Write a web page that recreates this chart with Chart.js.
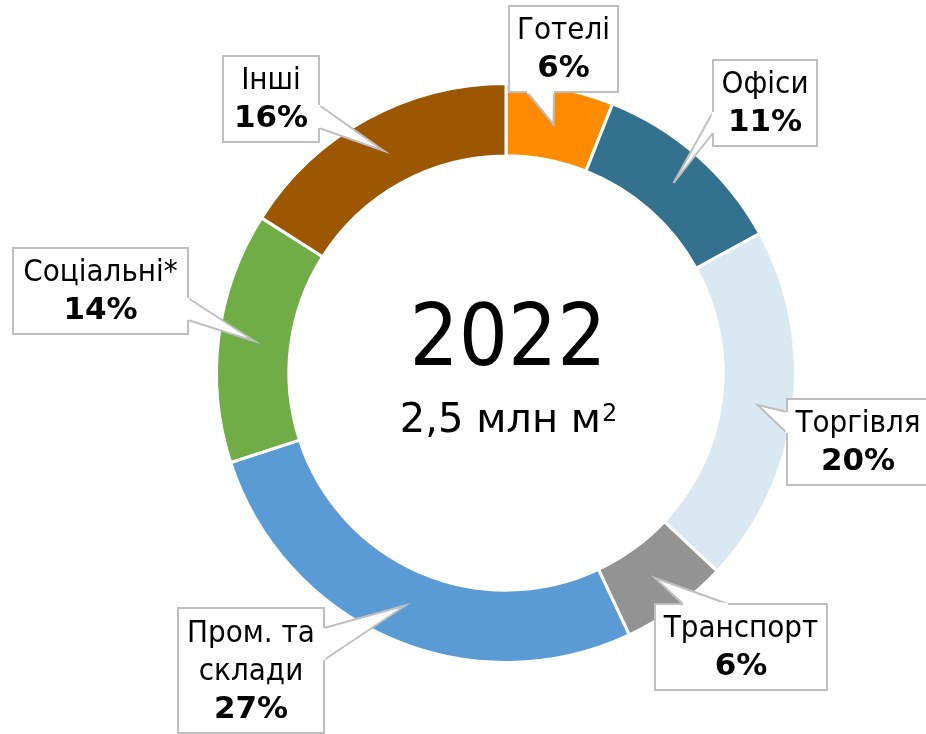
<!DOCTYPE html>
<html>
<head>
<meta charset="utf-8">
<script src="https://cdn.jsdelivr.net/npm/chart.js@4.4.1/dist/chart.umd.min.js"></script>
<style>
  html, body { margin: 0; padding: 0; background: #fff; }
  #wrap { width: 926px; height: 734px; position: relative; }
</style>
</head>
<body>
<div id="wrap"><canvas id="donut"></canvas></div>
<script>
  // structure of space, 2022
  var sectors = ['Готелі', 'Офіси', 'Торгівля', 'Транспорт', ['Пром. та', 'склади'], 'Соціальні*', 'Інші'];
  var shares = [6, 11, 20, 6, 27, 14, 16];
  var sliceColors = ['#FF8C00', '#33718F', '#DAE8F2', '#939393', '#5B9BD5', '#70AD47', '#9C5700'];
  var centerYear = '2022';
  var centerTotal = '2,5 млн м';

  // callout boxes: rect + side of the box the pointer leaves from (a, b = span along that side)
  var callouts = [
    { x: 509, y: 6,   w: 109, h: 86,  side: 'bottom', a: 527, b: 554 },
    { x: 713, y: 60,  w: 104, h: 86,  side: 'left',   a: 112, b: 133 },
    { x: 787, y: 399, w: 150, h: 86,  side: 'left',   a: 412, b: 433, cx: 858 },
    { x: 655, y: 604, w: 172, h: 86,  side: 'top',    a: 683, b: 728 },
    { x: 178, y: 608, w: 146, h: 125, side: 'right',  a: 628, b: 660 },
    { x: 13,  y: 248, w: 175, h: 86,  side: 'right',  a: 298, b: 320 },
    { x: 223, y: 56,  w: 96,  h: 86,  side: 'right',  a: 105, b: 128 }
  ];

  var FONT_C = '"DejaVu Sans Condensed", "DejaVu Sans", sans-serif';
  var FONT = '"DejaVu Sans", sans-serif';

  var calloutPlugin = {
    id: 'callouts',
    afterDatasetsDraw: function(chart) {
      var ctx = chart.ctx;
      var arcs = chart.getDatasetMeta(0).data;
      ctx.save();

      // center caption
      var cx = arcs[0].x, cy = arcs[0].y;
      ctx.fillStyle = '#000';
      ctx.textAlign = 'center';
      ctx.textBaseline = 'alphabetic';
      ctx.fontStretch = 'condensed';
      ctx.font = '86px ' + FONT_C;
      ctx.fillText(centerYear, cx + 2, cy - 8);
      ctx.fontStretch = 'normal';
      ctx.font = '40px ' + FONT;
      var w = ctx.measureText(centerTotal).width;
      ctx.font = '24px ' + FONT;
      var ws = ctx.measureText('2').width;
      var left = cx + 2 - (w + ws) / 2;
      ctx.textAlign = 'left';
      ctx.font = '40px ' + FONT;
      ctx.fillText(centerTotal, left, cy + 59);
      ctx.font = '24px ' + FONT;
      ctx.fillText('2', left + w + 1, cy + 48);

      for (var i = 0; i < arcs.length; i++) {
        var p = arcs[i].getProps(['x', 'y', 'startAngle', 'endAngle', 'innerRadius', 'outerRadius'], true);
        var mid = (p.startAngle + p.endAngle) / 2;
        var r = (p.innerRadius + p.outerRadius) / 2;
        var tx = p.x + Math.cos(mid) * r;
        var ty = p.y + Math.sin(mid) * r;
        var c = callouts[i];

        var b1, b2;
        if (c.side === 'bottom') { b1 = [c.a, c.y + c.h]; b2 = [c.b, c.y + c.h]; }
        else if (c.side === 'top') { b1 = [c.a, c.y]; b2 = [c.b, c.y]; }
        else if (c.side === 'left') { b1 = [c.x, c.a]; b2 = [c.x, c.b]; }
        else { b1 = [c.x + c.w, c.a]; b2 = [c.x + c.w, c.b]; }

        // box
        ctx.fillStyle = '#fff';
        ctx.strokeStyle = '#BFBFBF';
        ctx.lineWidth = 2;
        ctx.fillRect(c.x, c.y, c.w, c.h);
        ctx.strokeRect(c.x, c.y, c.w, c.h);

        // pointer wedge
        ctx.beginPath();
        ctx.moveTo(b1[0], b1[1]);
        ctx.lineTo(tx, ty);
        ctx.lineTo(b2[0], b2[1]);
        ctx.closePath();
        ctx.fill();
        ctx.beginPath();
        ctx.moveTo(b1[0], b1[1]);
        ctx.lineTo(tx, ty);
        ctx.lineTo(b2[0], b2[1]);
        ctx.stroke();
        // open the box edge where the wedge joins
        ctx.beginPath();
        ctx.moveTo(b1[0], b1[1]);
        ctx.lineTo(b2[0], b2[1]);
        ctx.lineWidth = 3;
        ctx.strokeStyle = '#fff';
        ctx.stroke();

        // text
        var lines = [].concat(chart.data.labels[i]);
        var all = lines.length + 1;
        var lh = 38;
        var mx = c.cx || (c.x + c.w / 2);
        var top = c.y + c.h / 2 - all * lh / 2;
        ctx.fillStyle = '#000';
        ctx.textAlign = 'center';
        ctx.textBaseline = 'middle';
        ctx.fontStretch = 'condensed';
        ctx.font = '31px ' + FONT_C;
        for (var k = 0; k < lines.length; k++) {
          ctx.fillText(lines[k], mx, top + lh * k + lh / 2 + 1);
        }
        ctx.fontStretch = 'normal';
        ctx.font = 'bold 31px ' + FONT;
        ctx.fillText(chart.data.datasets[0].data[i] + '%', mx, top + lh * lines.length + lh / 2 + 1);
      }
      ctx.restore();
    }
  };

  var ctxD = document.getElementById('donut').getContext('2d');
  var donut = new Chart(ctxD, {
    type: 'doughnut',
    data: {
      labels: sectors,
      datasets: [{
        data: shares,
        backgroundColor: sliceColors,
        borderColor: '#fff',
        borderWidth: 3
      }]
    },
    options: {
      responsive: true,
      maintainAspectRatio: false,
      animation: false,
      cutout: '75%',
      layout: { padding: { top: 82, bottom: 70, left: 215, right: 129 } },
      plugins: {
        legend: { display: false },
        tooltip: { enabled: false }
      }
    },
    plugins: [calloutPlugin]
  });
</script>
</body>
</html>
